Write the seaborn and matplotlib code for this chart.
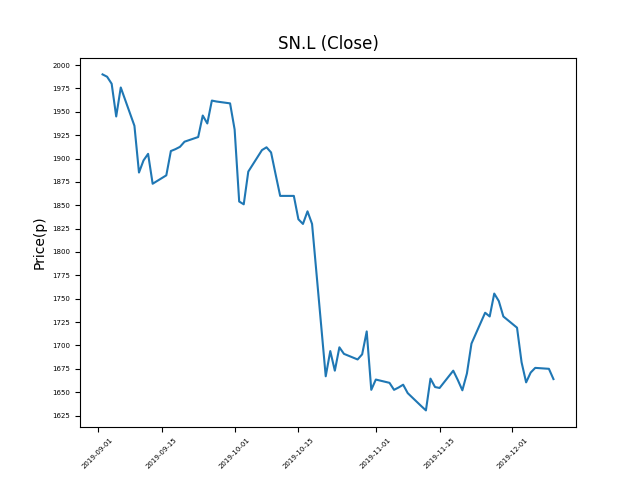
import pandas as pd
import matplotlib
matplotlib.use("Agg")
import matplotlib.pyplot as plt
import matplotlib.dates as mdates
from matplotlib.ticker import MultipleLocator
import seaborn as sns

# closing prices, one per business day 2019-09-02 .. 2019-12-10
sep_close = [1990, 1987.5, 1980, 1945, 1976,
             1935, 1885, 1898, 1905, 1873,
             1882, 1908, 1910, 1912.5, 1918,
             1923, 1946, 1937.5, 1962, 1961,
             1959]
oct_close = [1931, 1854, 1851, 1886,
             1909, 1912, 1906.5, 1883, 1860,
             1860, 1835, 1830, 1843.5, 1830,
             1667, 1694, 1673, 1698, 1691,
             1685, 1690.5, 1715, 1652.5]
nov_close = [1663.5,
             1660, 1652.5, 1655, 1658, 1649,
             1635, 1630.5, 1664.5, 1655.5, 1654.5,
             1673, 1663, 1652, 1670, 1702,
             1735, 1731, 1755.5, 1747.5, 1731]
dec_close = [1719, 1682, 1660.5, 1671, 1676,
             1675, 1664]

dates = pd.bdate_range("2019-09-02", "2019-12-10")
df = pd.DataFrame({"Date": dates,
                   "Close": sep_close + oct_close + nov_close + dec_close})

fig, ax = plt.subplots(figsize=(6.4, 4.8), dpi=100)
sns.lineplot(data=df, x="Date", y="Close", ax=ax)

ax.set_title("SN.L (Close)")
ax.set_ylabel("Price(p)")
ax.set_xlabel("")
ax.xaxis.set_major_locator(mdates.DayLocator(bymonthday=[1, 15]))
ax.xaxis.set_major_formatter(mdates.DateFormatter("%Y-%m-%d"))
ax.yaxis.set_major_locator(MultipleLocator(25))
plt.xticks(rotation=45, fontsize=5)
plt.yticks(fontsize=5)

plt.savefig("out.png")
